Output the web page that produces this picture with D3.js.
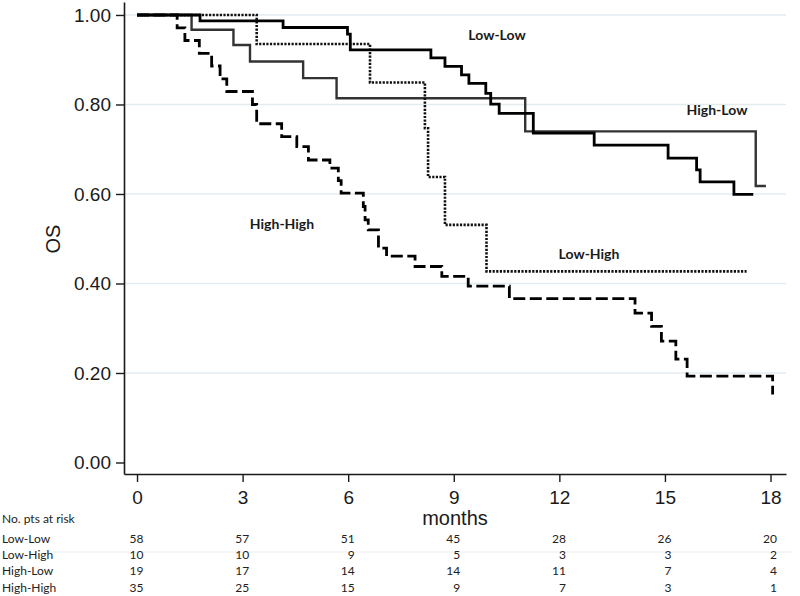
<!DOCTYPE html>
<html>
<head>
<meta charset="utf-8">
<script src="https://cdn.jsdelivr.net/npm/d3@7"></script>
<style>
  body { margin: 0; background: #fff; }
  .tick text { font-family: "Liberation Sans", Arial, sans-serif; font-size: 19px; fill: #1a1a1a; }
</style>
</head>
<body>
<div id="chart"></div>
<script>
// survival curves: event times (months) and OS after each event
const lowLowTimes = [0, 1.79, 4.15, 5.98, 6.06, 8.35, 8.75, 9.22, 9.43, 9.91, 10.05, 10.29, 11.26, 12.99, 15.09, 15.9, 16.0, 16.96, 17.51];
const lowLowOS = [1, 0.987, 0.972, 0.957, 0.922, 0.904, 0.885, 0.866, 0.847, 0.825, 0.801, 0.780, 0.736, 0.709, 0.680, 0.654, 0.627, 0.599, 0.599];

const lowHighTimes = [0, 3.40, 6.62, 8.18, 8.27, 8.75, 9.93, 17.32];
const lowHighOS = [1, 0.935, 0.849, 0.747, 0.638, 0.531, 0.427, 0.427];

const highLowTimes = [0, 1.55, 2.74, 3.21, 4.72, 5.67, 11.03, 17.58, 17.87];
const highLowOS = [1, 0.967, 0.933, 0.896, 0.859, 0.814, 0.740, 0.618, 0.618];

const highHighTimes = [0, 1.14, 1.36, 1.77, 2.12, 2.36, 2.55, 3.28, 3.40, 4.11, 4.54, 4.87, 5.48, 5.72, 5.80, 6.43, 6.48, 6.57, 6.86, 7.09, 7.90, 8.66, 9.41, 10.58, 14.15, 14.62, 14.90, 15.31, 15.63, 18.06];
const highHighOS = [1, 0.971, 0.943, 0.914, 0.886, 0.857, 0.829, 0.800, 0.757, 0.728, 0.706, 0.676, 0.658, 0.630, 0.602, 0.572, 0.542, 0.520, 0.479, 0.461, 0.438, 0.416, 0.394, 0.366, 0.334, 0.304, 0.271, 0.231, 0.193, 0.152];

// risk table
const xTicks = [0, 3, 6, 9, 12, 15, 18];
const yTicks = [0, 0.2, 0.4, 0.6, 0.8, 1.0];
const riskGroups = ["Low-Low", "Low-High", "High-Low", "High-High"];
const riskLowLow = [58, 57, 51, 45, 28, 26, 20];
const riskLowHigh = [10, 10, 9, 5, 3, 3, 2];
const riskHighLow = [19, 17, 14, 14, 11, 7, 4];
const riskHighHigh = [35, 25, 15, 9, 7, 3, 1];

class KMChart {
  constructor(_config) {
    this.config = {
      parentElement: _config.parentElement,
      width: 800,
      height: 596,
      margin: { top: 2, left: 124 },
      innerWidth: 662,
      innerHeight: 472
    };
    this.initVis();
  }

  initVis() {
    let vis = this;
    let cfg = vis.config;

    vis.svg = d3.select(cfg.parentElement)
      .append("svg")
      .attr("width", cfg.width)
      .attr("height", cfg.height);

    vis.g = vis.svg.append("g")
      .attr("transform", `translate(${cfg.margin.left},${cfg.margin.top})`);

    vis.xScale = d3.scaleLinear().domain([-0.37, 18.44]).range([0, cfg.innerWidth]);
    vis.yScale = d3.scaleLinear().domain([-0.0257, 1.029]).range([cfg.innerHeight, 0]);

    vis.series = [
      { name: "High-Low", times: highLowTimes, os: highLowOS, width: 2.4, dash: null, color: "#333" },
      { name: "Low-High", times: lowHighTimes, os: lowHighOS, width: 2.6, dash: "2.2,1.4", color: "#111" },
      { name: "Low-Low", times: lowLowTimes, os: lowLowOS, width: 2.8, dash: null, color: "#000" },
      { name: "High-High", times: highHighTimes, os: highHighOS, width: 2.8, dash: "12,4.5", color: "#000" }
    ];

    vis.renderVis();
  }

  renderVis() {
    let vis = this;
    let cfg = vis.config;

    // grid lines
    vis.g.selectAll(".grid")
      .data(yTicks.filter(d => d > 0))
      .join("line")
      .attr("class", "grid")
      .attr("x1", 0)
      .attr("x2", cfg.innerWidth)
      .attr("y1", d => vis.yScale(d))
      .attr("y2", d => vis.yScale(d))
      .attr("stroke", "#e3ebef")
      .attr("stroke-width", 1.6);

    // curves
    let line = d3.line()
      .x(d => vis.xScale(d[0]))
      .y(d => vis.yScale(d[1]))
      .curve(d3.curveStepAfter);

    vis.g.selectAll(".km")
      .data(vis.series)
      .join("path")
      .attr("class", "km")
      .attr("d", s => line(s.times.map((t, i) => [t, s.os[i]])))
      .attr("fill", "none")
      .attr("stroke", s => s.color)
      .attr("stroke-width", s => s.width)
      .attr("stroke-dasharray", s => s.dash);

    // axes
    let yAxis = d3.axisLeft(vis.yScale)
      .tickValues(yTicks)
      .tickFormat(d3.format(".2f"))
      .tickSize(8)
      .tickSizeOuter(0)
      .tickPadding(5);

    let xAxis = d3.axisBottom(vis.xScale)
      .tickValues(xTicks)
      .tickSize(8)
      .tickSizeOuter(0)
      .tickPadding(8.5);

    let yg = vis.g.append("g").call(yAxis);
    let xg = vis.g.append("g")
      .attr("transform", `translate(0,${cfg.innerHeight})`)
      .call(xAxis);

    [xg, yg].forEach(a => {
      a.select(".domain").attr("stroke", "#1a1a1a").attr("stroke-width", 1.6);
      a.selectAll(".tick line").attr("stroke", "#1a1a1a").attr("stroke-width", 1.4);
    });

    // axis titles
    vis.svg.append("text")
      .attr("x", 455)
      .attr("y", 525)
      .attr("text-anchor", "middle")
      .style("font-family", "Liberation Sans, Arial, sans-serif")
      .style("font-size", "20px")
      .attr("fill", "#1a1a1a")
      .text("months");

    vis.svg.append("text")
      .attr("transform", "translate(53,239) rotate(-90)")
      .attr("text-anchor", "middle")
      .attr("dominant-baseline", "central")
      .style("font-family", "Liberation Sans, Arial, sans-serif")
      .style("font-size", "20px")
      .attr("fill", "#1a1a1a")
      .text("OS");

    // curve labels
    let labels = [
      { text: "Low-Low", x: 497, y: 40 },
      { text: "High-Low", x: 717, y: 115 },
      { text: "Low-High", x: 589, y: 259 },
      { text: "High-High", x: 282, y: 229 }
    ];
    vis.svg.selectAll(".curve-label")
      .data(labels)
      .join("text")
      .attr("class", "curve-label")
      .attr("x", d => d.x)
      .attr("y", d => d.y)
      .attr("text-anchor", "middle")
      .style("font-family", "Lato, sans-serif")
      .style("font-weight", "bold")
      .style("font-size", "14px")
      .attr("fill", "#1a1a1a")
      .text(d => d.text);

    // number at risk table
    let table = vis.svg.append("g")
      .style("font-family", "Lato, sans-serif")
      .style("font-size", "12px")
      .attr("fill", "#222");

    table.append("line")
      .attr("x1", 45).attr("x2", 792)
      .attr("y1", 552).attr("y2", 552)
      .attr("stroke", "#ececec")
      .attr("stroke-width", 1);

    table.append("text")
      .attr("x", 2)
      .attr("y", 522.5)
      .text("No. pts at risk");

    let rows = [riskLowLow, riskLowHigh, riskHighLow, riskHighHigh];
    let rowY = [543.3, 559.3, 575.3, 591.5];

    rows.forEach((row, r) => {
      table.append("text")
        .attr("x", 2)
        .attr("y", rowY[r])
        .text(riskGroups[r]);

      table.selectAll(`.risk-${r}`)
        .data(row)
        .join("text")
        .attr("class", `risk-${r}`)
        .attr("x", (d, i) => cfg.margin.left + vis.xScale(xTicks[i]) + 6.5)
        .attr("y", rowY[r])
        .attr("text-anchor", "end")
        .text(d => d);
    });
  }
}

new KMChart({ parentElement: "#chart" });
</script>
</body>
</html>
